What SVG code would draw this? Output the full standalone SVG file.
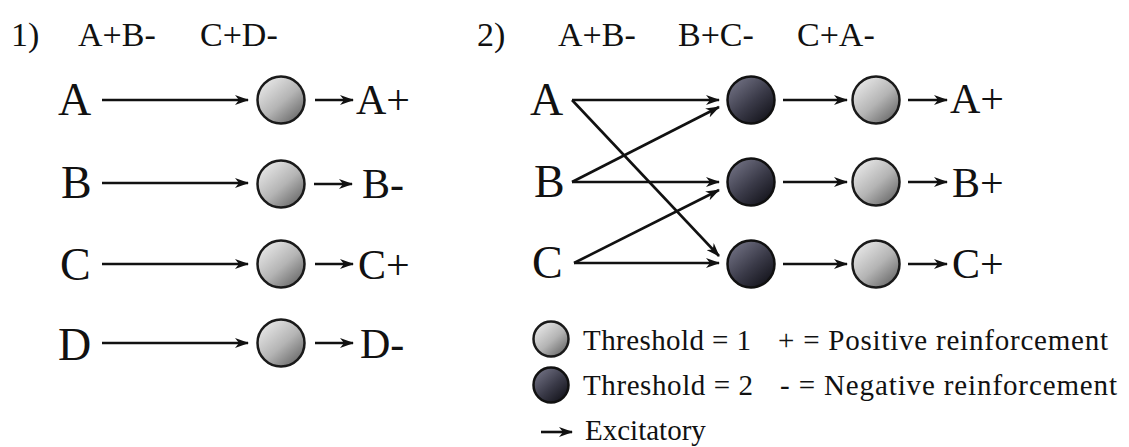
<svg xmlns="http://www.w3.org/2000/svg" width="1129" height="447" viewBox="0 0 1129 447">
  <style>
    text { font-family: "Liberation Serif", "DejaVu Serif", serif; fill: #111; }
    .hdr { font-size: 34px; }
    .lbl { font-size: 46px; }
    .out { font-size: 42px; }
    .leg { font-size: 29px; }
    .edge { stroke: #111; stroke-width: 2.6; fill: none; marker-end: url(#ah); }
    .light { fill: url(#gLight); stroke: #1a1a1a; stroke-width: 2.5; }
    .dark { fill: url(#gDark); stroke: #111; stroke-width: 2.5; }
  </style>
  <defs>
    <linearGradient id="gLight" x1="0.15" y1="0.1" x2="0.85" y2="0.9">
      <stop offset="0" stop-color="#e6e6e6"/>
      <stop offset="0.55" stop-color="#b4b4b4"/>
      <stop offset="1" stop-color="#6e6e6e"/>
    </linearGradient>
    <linearGradient id="gDark" x1="0.15" y1="0.1" x2="0.85" y2="0.9">
      <stop offset="0" stop-color="#6e6e80"/>
      <stop offset="0.55" stop-color="#3a3a48"/>
      <stop offset="1" stop-color="#16161e"/>
    </linearGradient>
    <marker id="ah" viewBox="0 0 14 10" refX="13" refY="5" markerWidth="14" markerHeight="10" markerUnits="userSpaceOnUse" orient="auto">
      <path d="M0,0 L14,5 L0,10 L4,5 z" fill="#111"/>
    </marker>
  </defs>

  <!-- Panel 1 headers -->
  <g id="p1-header">
    <text class="hdr" x="11" y="46">1)</text>
    <text class="hdr" x="78" y="46">A+B-</text>
    <text class="hdr" x="200" y="46">C+D-</text>
  </g>

  <!-- Panel 2 headers -->
  <g id="p2-header">
    <text class="hdr" x="477" y="46">2)</text>
    <text class="hdr" x="558" y="46">A+B-</text>
    <text class="hdr" x="678" y="46">B+C-</text>
    <text class="hdr" x="797" y="46">C+A-</text>
  </g>

  <!-- Panel 1 nodes -->
  <g id="p1-inA"><text class="lbl" x="58" y="115">A</text></g>
  <g id="p1-inB"><text class="lbl" x="61" y="198">B</text></g>
  <g id="p1-inC"><text class="lbl" x="60" y="280">C</text></g>
  <g id="p1-inD"><text class="lbl" x="58" y="360">D</text></g>
  <g id="p1-nA"><circle class="light" cx="281" cy="100" r="23.5"/></g>
  <g id="p1-nB"><circle class="light" cx="281" cy="184" r="23.5"/></g>
  <g id="p1-nC"><circle class="light" cx="281" cy="264" r="23.5"/></g>
  <g id="p1-nD"><circle class="light" cx="281" cy="343" r="23.5"/></g>
  <g id="p1-outA"><text class="out" x="356" y="114">A+</text></g>
  <g id="p1-outB"><text class="out" x="362" y="198">B-</text></g>
  <g id="p1-outC"><text class="out" x="358" y="279">C+</text></g>
  <g id="p1-outD"><text class="out" x="360" y="358">D-</text></g>

  <!-- Panel 2 nodes -->
  <g id="p2-inA"><text class="lbl" x="530" y="115">A</text></g>
  <g id="p2-inB"><text class="lbl" x="534" y="197">B</text></g>
  <g id="p2-inC"><text class="lbl" x="532" y="278">C</text></g>
  <g id="p2-d1"><circle class="dark" cx="751" cy="100" r="23.5"/></g>
  <g id="p2-d2"><circle class="dark" cx="751" cy="182" r="23.5"/></g>
  <g id="p2-d3"><circle class="dark" cx="751" cy="264" r="23.5"/></g>
  <g id="p2-l1"><circle class="light" cx="876" cy="100" r="23.5"/></g>
  <g id="p2-l2"><circle class="light" cx="876" cy="182" r="23.5"/></g>
  <g id="p2-l3"><circle class="light" cx="876" cy="264" r="23.5"/></g>
  <g id="p2-outA"><text class="out" x="950" y="113">A+</text></g>
  <g id="p2-outB"><text class="out" x="952" y="197">B+</text></g>
  <g id="p2-outC"><text class="out" x="952" y="278">C+</text></g>

  <!-- Connectors -->
  <g id="connectors">
    <line class="edge" x1="102" y1="100" x2="248" y2="100"/>
    <line class="edge" x1="102" y1="183" x2="248" y2="183"/>
    <line class="edge" x1="102" y1="264" x2="248" y2="264"/>
    <line class="edge" x1="102" y1="343" x2="248" y2="343"/>
    <line class="edge" x1="315" y1="100" x2="353" y2="100"/>
    <line class="edge" x1="314" y1="184" x2="352" y2="184"/>
    <line class="edge" x1="315" y1="264" x2="353" y2="264"/>
    <line class="edge" x1="315" y1="343" x2="353" y2="343"/>

    <line class="edge" x1="572" y1="100" x2="719" y2="100"/>
    <line class="edge" x1="572" y1="182" x2="719" y2="107"/>
    <line class="edge" x1="572" y1="100" x2="719" y2="256"/>
    <line class="edge" x1="572" y1="182" x2="719" y2="182"/>
    <line class="edge" x1="574" y1="263" x2="719" y2="190"/>
    <line class="edge" x1="574" y1="263" x2="719" y2="263"/>

    <line class="edge" x1="783" y1="100" x2="847" y2="100"/>
    <line class="edge" x1="783" y1="182" x2="847" y2="182"/>
    <line class="edge" x1="783" y1="264" x2="847" y2="264"/>
    <line class="edge" x1="908" y1="100" x2="947" y2="100"/>
    <line class="edge" x1="908" y1="182" x2="947" y2="182"/>
    <line class="edge" x1="908" y1="264" x2="947" y2="264"/>
  </g>

  <!-- Legend -->
  <g id="legend">
    <circle class="light" cx="551" cy="339" r="17.5"/>
    <circle class="dark" cx="551" cy="385" r="17.5"/>
    <line class="edge" x1="541" y1="432" x2="572" y2="432"/>
    <text class="leg" x="583" y="350" textLength="168">Threshold = 1</text>
    <text class="leg" x="583" y="395" textLength="170">Threshold = 2</text>
    <text class="leg" x="585" y="440">Excitatory</text>
    <text class="leg" x="778" y="350" textLength="330">+ = Positive reinforcement</text>
    <text class="leg" x="780" y="395" textLength="337">- = Negative reinforcement</text>
  </g>
</svg>
